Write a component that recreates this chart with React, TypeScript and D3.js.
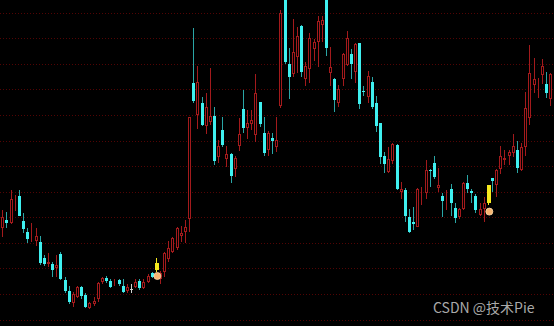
import React from "react";
import * as d3 from "d3";

const W = 554;
const H = 326;

const opens = [
  8.62, 9.02, 8.87, 9.88, 10.2, 8.95, 8.39, 8.1, 7.97, 7.89,
  7.09, 6.8, 6.79, 6.6, 7.3, 6.0, 5.45, 4.87, 5.17, 5.64,
  5.25, 4.59, 4.8, 5.04, 5.92, 6.12, 5.97, 5.79, 6.0, 5.7,
  5.47, 5.55, 5.67, 5.97, 5.59, 5.89, 6.37, 6.5, 6.04, 6.42,
  7.04, 7.42, 7.59, 8.2, 8.42, 9.04, 15.84, 14.25, 14.84, 13.7,
  13.92, 14.2, 12.14, 13.5, 12.07, 12.3, 11.54, 12.7, 14.55, 13.59,
  13.8, 13.25, 14.89, 13.37, 12.5, 13.12, 12.64, 14.7, 20.25, 16.8,
  16.3, 17.14, 18.72, 16.04, 16.54, 17.55, 17.92, 18.75, 20.25, 16.37,
  16.04, 14.87, 16.04, 16.75, 17.29, 16.42, 17.84, 15.45, 15.14, 15.92,
  14.87, 13.84, 12.2, 11.42, 11.97, 12.75, 10.42, 10.5, 9.17, 8.92,
  8.67, 10.35, 10.37, 11.5, 11.84, 10.62, 10.2, 10.2, 10.54, 9.59,
  9.17, 9.54, 10.87, 10.44, 10.2, 9.25, 9.54, 9.84, 11.09, 10.75,
  11.54, 12.0, 12.2, 12.34, 12.5, 11.5, 12.67, 14.09, 15.75, 15.74,
  16.25, 15.8, 15.04,
];

const closes = [
  9.14, 8.84, 10.04, 9.9, 9.22, 8.54, 8.05, 8.15, 8.2, 6.84,
  6.8, 6.92, 6.5, 6.75, 6.04, 5.45, 4.92, 5.29, 5.64, 5.22,
  4.67, 4.84, 4.97, 5.87, 6.09, 5.95, 5.67, 5.81, 5.79, 5.42,
  5.67, 5.55, 5.92, 5.6, 5.92, 6.2, 6.14, 6.84, 6.37, 7.34,
  7.59, 8.09, 8.62, 8.37, 8.64, 14.14, 14.97, 15.89, 13.75, 14.64,
  14.2, 11.95, 12.7, 12.75, 12.3, 11.2, 12.09, 13.29, 13.59, 13.84,
  14.0, 15.34, 13.79, 12.34, 13.37, 12.95, 13.0, 19.37, 16.92, 16.17,
  17.42, 18.2, 16.42, 16.7, 18.09, 17.92, 18.97, 19.0, 17.59, 16.64,
  15.0, 15.54, 17.3, 18.09, 16.8, 17.8, 14.8, 15.4, 16.2, 14.64,
  13.72, 12.14, 11.8, 12.04, 12.8, 10.54, 10.54, 9.2, 8.42, 8.8,
  10.54, 10.38, 11.5, 11.43, 11.14, 10.75, 9.97, 10.23, 9.87, 9.09,
  9.54, 10.87, 10.54, 10.34, 9.5, 9.54, 9.84, 10.75, 10.97, 11.5,
  12.2, 12.09, 12.42, 12.7, 11.59, 12.67, 14.59, 16.37, 16.04, 15.76,
  16.7, 15.37, 16.3,
];

const highs = [
  9.5, 9.39, 10.5, 10.25, 10.5, 9.37, 8.62, 8.84, 8.59, 8.2,
  7.25, 7.37, 6.92, 7.25, 7.42, 6.17, 5.7, 5.42, 5.7, 5.7,
  5.34, 4.92, 5.17, 5.92, 6.17, 6.2, 6.04, 6.05, 6.05, 6.07,
  5.8, 5.8, 6.04, 6.05, 6.04, 6.3, 6.42, 7.09, 6.47, 7.42,
  7.97, 8.17, 8.67, 8.72, 9.0, 14.14, 18.59, 16.7, 15.17, 15.37,
  16.59, 14.64, 13.0, 14.14, 12.7, 12.34, 12.2, 14.09, 15.5, 14.5,
  14.5, 16.3, 14.92, 14.14, 13.47, 13.34, 14.14, 19.5, 20.5, 17.59,
  19.04, 18.67, 18.75, 16.92, 18.34, 18.04, 19.2, 19.2, 20.5, 17.67,
  16.09, 15.75, 17.34, 18.47, 17.54, 17.84, 17.87, 15.7, 16.47, 16.14,
  15.2, 13.87, 12.42, 12.67, 12.87, 12.8, 10.92, 10.59, 9.54, 9.64,
  10.6, 10.64, 12.0, 11.53, 12.2, 11.59, 10.37, 10.5, 10.8, 9.87,
  9.59, 10.92, 11.25, 10.54, 10.3, 9.84, 10.17, 10.75, 11.1, 11.54,
  12.7, 12.5, 12.5, 13.3, 12.97, 12.87, 15.42, 17.75, 17.09, 16.09,
  17.04, 16.42, 16.37,
];

const lows = [
  8.17, 8.59, 8.8, 9.47, 9.2, 8.37, 7.87, 7.9, 7.72, 6.74,
  6.7, 6.64, 6.14, 6.15, 6.0, 5.34, 4.8, 4.67, 5.09, 5.04,
  4.59, 4.54, 4.7, 4.92, 5.8, 5.84, 5.59, 5.7, 5.7, 5.37,
  5.37, 5.34, 5.59, 5.5, 5.54, 5.84, 6.09, 6.42, 5.8, 6.17,
  6.92, 7.37, 7.5, 7.92, 7.84, 8.42, 14.84, 13.54, 13.7, 13.3,
  13.75, 11.75, 11.87, 12.67, 11.64, 10.87, 11.17, 12.47, 13.37, 13.04,
  13.5, 12.92, 13.64, 12.2, 12.2, 12.3, 12.42, 14.6, 16.8, 15.04,
  16.14, 16.37, 16.17, 15.7, 15.87, 16.97, 16.67, 17.92, 17.2, 15.7,
  14.42, 14.67, 15.7, 16.7, 16.04, 15.87, 14.54, 15.2, 14.87, 14.54,
  13.42, 11.8, 11.37, 11.37, 11.8, 10.5, 10.04, 8.92, 8.34, 8.5,
  8.63, 9.75, 10.04, 10.67, 11.04, 10.42, 9.17, 9.5, 9.2, 8.84,
  9.04, 9.5, 10.34, 9.87, 9.37, 9.2, 8.92, 9.75, 10.42, 10.17,
  11.3, 11.75, 11.75, 12.17, 11.34, 11.47, 12.2, 13.75, 15.34, 15.09,
  15.8, 15.09, 14.7,
];

// highlighted (yellow) candles and the marker dots drawn under them
const highlightIdx = [37, 117];
const markerPrices = [6.2, 9.42];

const watermark = "CSDN @技术Pie";

const RED = "#a31a1c";
const CYAN = "#3ff0f0";
const CYAN_WICK = "#2aa6a6";
const YELLOW = "#f7ea1e";
const GRAY = "#cfcfcf";

export default function App() {
  const n = opens.length;
  const x = d3.scaleLinear().domain([0, n - 1]).range([2.3, 550.1]);
  const y = d3.scaleLinear().domain([3.7, 20]).range([H, 0]);
  const gridLevels = d3.range(13).map((k) => 19.365 - k * 1.27875);

  const candles = d3.range(n).map((i) => {
    const o = opens[i];
    const c = closes[i];
    const cx = Math.round(x(i)) + 0.5;
    const top = Math.round(y(Math.max(o, c)));
    const bot = Math.round(y(Math.min(o, c)));
    const hy = Math.round(y(highs[i]));
    const ly = Math.round(y(lows[i]));
    const isYellow = highlightIdx.includes(i);
    let kind = c > o ? "up" : c < o ? "down" : "flat";
    if (isYellow) kind = "yellow";
    return { i, cx, top, bot, hy, ly, kind };
  });

  return (
    <svg
      width={W}
      height={H}
      style={{ position: "fixed", left: 0, top: 0, background: "#000", display: "block" }}
    >
      <rect x={0} y={0} width={W} height={H} fill="#000" />
      {gridLevels.map((g, k) => {
        const gy = Math.round(y(g)) + 0.5;
        return (
          <line
            key={k}
            x1={0}
            x2={W}
            y1={gy}
            y2={gy}
            stroke="#520404"
            strokeWidth={1}
            strokeDasharray="1 2"
          />
        );
      })}
      <g shapeRendering="crispEdges">
        {candles.map((d) => {
          const h = Math.max(d.bot - d.top, 1);
          if (d.kind === "up") {
            return (
              <g key={d.i}>
                <line x1={d.cx} x2={d.cx} y1={d.hy} y2={d.ly} stroke={RED} />
                <rect
                  x={d.cx - 1}
                  y={d.top + 0.5}
                  width={2}
                  height={Math.max(d.bot - d.top - 1, 0)}
                  fill="#000"
                  stroke={RED}
                />
              </g>
            );
          }
          const wc = d.kind === "down" ? CYAN_WICK : d.kind === "yellow" ? YELLOW : GRAY;
          const bc = d.kind === "down" ? CYAN : d.kind === "yellow" ? YELLOW : GRAY;
          const bw = d.kind === "yellow" ? 4 : 3;
          return (
            <g key={d.i}>
              <line x1={d.cx} x2={d.cx} y1={d.hy} y2={d.ly} stroke={wc} />
              <rect x={d.cx - 1.5} y={d.top} width={bw} height={h} fill={bc} />
            </g>
          );
        })}
      </g>
      {highlightIdx.map((idx, k) => (
        <circle
          key={k}
          cx={x(idx) + 1.5}
          cy={y(markerPrices[k])}
          r={3.5}
          fill="#f6b572"
          stroke="#ffd9a8"
          strokeWidth={0.8}
        />
      ))}
      <text
        x={433}
        y={313}
        fill="#a9a9a9"
        fontSize={14}
        fontFamily="'Noto Sans CJK SC', 'Noto Sans', sans-serif"
      >
        {watermark}
      </text>
    </svg>
  );
}
